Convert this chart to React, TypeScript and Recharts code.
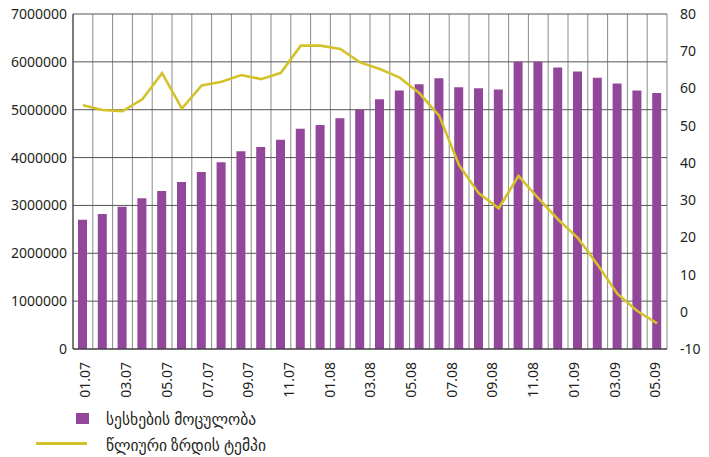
import {
  ComposedChart,
  Bar,
  Line,
  XAxis,
  YAxis,
  CartesianGrid,
  Legend,
} from "recharts";

const months = [
  "01.07", "02.07", "03.07", "04.07", "05.07", "06.07", "07.07", "08.07", "09.07", "10.07", "11.07", "12.07",
  "01.08", "02.08", "03.08", "04.08", "05.08", "06.08", "07.08", "08.08", "09.08", "10.08", "11.08", "12.08",
  "01.09", "02.09", "03.09", "04.09", "05.09", "06.09",
];

// loan volume
const loans = [
  2700000, 2820000, 2970000, 3150000, 3300000, 3490000, 3700000, 3900000, 4130000, 4220000, 4370000, 4600000,
  4680000, 4820000, 5000000, 5220000, 5400000, 5530000, 5660000, 5470000, 5450000, 5420000, 6000000, 6000000,
  5880000, 5800000, 5670000, 5550000, 5400000, 5350000,
];

// annual growth rate, %
const growth = [
  55.5, 54.2, 53.9, 57.1, 64.1, 54.6, 60.8, 61.8, 63.6, 62.5, 64.2, 71.5,
  71.5, 70.6, 67.0, 65.2, 62.9, 58.7, 52.6, 39.4, 31.8, 27.8, 36.5, 30.5,
  24.8, 19.8, 12.6, 4.8, 0.2, -3.1,
];

const leftTicks = [0, 1000000, 2000000, 3000000, 4000000, 5000000, 6000000, 7000000];
const rightTicks = [-10, 0, 10, 20, 30, 40, 50, 60, 70, 80];

const LOANS_NAME = "სესხების მოცულობა";
const GROWTH_NAME = "წლიური ზრდის ტემპი";

const PURPLE = "#93479b";
const YELLOW = "#d4c22a";
const TEXT = "#231f20";
const FONT = "'Noto Sans', 'DejaVu Sans', sans-serif";

const data = months.map((m, i) => ({ month: m, loans: loans[i], growth: growth[i] }));

const MonthTick = ({ x, y, payload }: any) => {
  const idx = months.indexOf(payload.value);
  // labels in the original drift a little to the right of the bars
  const tx = x + 2.7 + 0.55 * idx;
  const ty = y + 5;
  return (
    <text
      x={tx}
      y={ty}
      transform={`rotate(-90, ${tx}, ${ty})`}
      textAnchor="end"
      dy="0.35em"
      fill={TEXT}
      fontSize={14}
      fontFamily={FONT}
    >
      {payload.value}
    </text>
  );
};

const LegendBox = ({ payload }: any) => {
  const items = payload || [];
  const bar = items.find((p: any) => p.value === LOANS_NAME);
  const line = items.find((p: any) => p.value === GROWTH_NAME);
  const txt = {
    position: "absolute" as const,
    left: 106,
    fontSize: 15.5,
    lineHeight: "18px",
    color: TEXT,
    fontFamily: FONT,
    whiteSpace: "nowrap" as const,
  };
  return (
    <div style={{ position: "relative", width: 709, height: 52 }}>
      <div style={{ position: "absolute", left: 76, top: 8, width: 13, height: 11, background: bar ? bar.color : PURPLE }} />
      <div style={{ ...txt, top: 5 }}>{bar ? bar.value : LOANS_NAME}</div>
      <div style={{ position: "absolute", left: 36, top: 37, width: 51, height: 3, background: line ? line.color : YELLOW }} />
      <div style={{ ...txt, top: 31 }}>{line ? line.value : GROWTH_NAME}</div>
    </div>
  );
};

export default function App() {
  return (
    <div style={{ position: "absolute", left: 0, top: 0, background: "#fff" }}>
      <ComposedChart width={709} height={457} data={data} margin={{ top: 14, right: 0, bottom: 58, left: 0 }}>
        <CartesianGrid
          yAxisId="left"
          stroke="#8c8c8c"
          horizontal={false}
          verticalCoordinatesGenerator={({ offset }: any) =>
            Array.from({ length: months.length + 1 }, (_, i) => offset.left + (i * offset.width) / months.length)
          }
        />
        <CartesianGrid yAxisId="left" stroke="#555" vertical={false} />
        <XAxis
          dataKey="month"
          interval={1}
          tickLine={false}
          axisLine={{ stroke: "#333" }}
          height={50}
          tick={<MonthTick />}
        />
        <YAxis
          yAxisId="left"
          width={73}
          domain={[0, 7000000]}
          ticks={leftTicks}
          tickLine={false}
          tickSize={6}
          tickMargin={0}
          axisLine={{ stroke: "#333" }}
          tick={{ fill: TEXT, fontSize: 14, fontFamily: FONT }}
        />
        <YAxis
          yAxisId="right"
          orientation="right"
          width={42}
          domain={[-10, 80]}
          ticks={rightTicks}
          tickLine={false}
          tickSize={6}
          tickMargin={7}
          axisLine={false}
          tick={{ fill: TEXT, fontSize: 14, fontFamily: FONT, textAnchor: "start" }}
        />
        <Bar yAxisId="left" dataKey="loans" name={LOANS_NAME} fill={PURPLE} barSize={9} isAnimationActive={false} />
        <Line
          yAxisId="right"
          type="linear"
          dataKey="growth"
          name={GROWTH_NAME}
          stroke={YELLOW}
          strokeWidth={2.6}
          dot={false}
          activeDot={false}
          isAnimationActive={false}
        />
        <Legend
          layout="horizontal"
          verticalAlign="middle"
          align="center"
          content={<LegendBox />}
          wrapperStyle={{ position: "absolute", left: 0, top: 405, width: 709, height: 52 }}
        />
      </ComposedChart>
    </div>
  );
}
